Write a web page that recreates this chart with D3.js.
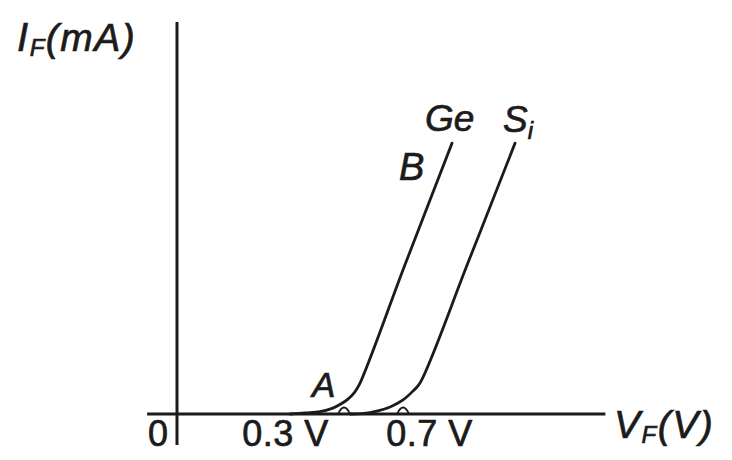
<!DOCTYPE html>
<html>
<head>
<meta charset="utf-8">
<script src="https://cdn.jsdelivr.net/npm/d3@7"></script>
<style>
  html, body { margin: 0; padding: 0; background: #fff; }
  svg { display: block; }
  text { font-family: "Liberation Sans", Arial, Helvetica, sans-serif; fill: #1b1b1b; stroke: #1b1b1b; stroke-width: 0.7; }
</style>
</head>
<body>
<svg id="chart" width="732" height="460"></svg>
<script>
// Forward characteristics of germanium and silicon diodes (schematic).
// Forward voltage in volts, forward current in mA.
const geVoltage = [0.314, 0.356, 0.397, 0.433, 0.456, 0.475, 0.492, 0.506, 0.633, 0.764];
const geCurrent = [0, 0.03, 0.06, 0.15, 0.26, 0.38, 0.54, 0.74, 3.80, 6.91];

const siVoltage = [0.481, 0.514, 0.558, 0.592, 0.628, 0.656, 0.675, 0.808, 0.939];
const siCurrent = [0, 0.01, 0.08, 0.18, 0.36, 0.59, 0.79, 3.85, 6.91];

// Knee marks on the voltage axis
const kneeVoltages = [0.464, 0.628];

// Labelled voltages on the horizontal axis
const tickValues = [0.3, 0.7];
const tickLabels = ["0.3 V", "0.7 V"];

const svg = d3.select("#chart");
const ink = "#1b1b1b";

const x = d3.scaleLinear().domain([0, 1]).range([177, 537]);
const y = d3.scaleLinear().domain([0, 10]).range([414, 22]);

// Axes
svg.append("line")
  .attr("x1", x(-0.083)).attr("x2", x(1.19))
  .attr("y1", y(0)).attr("y2", y(0))
  .attr("stroke", ink).attr("stroke-width", 3);
svg.append("line")
  .attr("x1", x(0)).attr("x2", x(0))
  .attr("y1", y(-0.79)).attr("y2", y(10))
  .attr("stroke", ink).attr("stroke-width", 3);

// Tick labels along the voltage axis
const xAxis = d3.axisBottom(x)
  .tickValues(tickValues)
  .tickSize(0)
  .tickFormat((d, i) => tickLabels[i]);
const gx = svg.append("g")
  .attr("transform", `translate(0,${y(0)})`)
  .call(xAxis);
gx.select(".domain").remove();
gx.selectAll("text")
  .attr("y", 32).attr("dy", 0)
  .attr("font-size", 36)
  .attr("letter-spacing", 0.5)
  .attr("font-family", "'Liberation Sans', Arial, sans-serif")
  .attr("fill", ink);

svg.append("text")
  .attr("x", x(0) - 9).attr("y", 446)
  .attr("text-anchor", "end")
  .attr("font-size", 36)
  .text("0");

// Curves
const line = d3.line()
  .x(d => x(d[0]))
  .y(d => y(d[1]))
  .curve(d3.curveCatmullRom.alpha(0.5));

const ge = geVoltage.map((v, i) => [v, geCurrent[i]]);
const si = siVoltage.map((v, i) => [v, siCurrent[i]]);

svg.append("path").datum(ge)
  .attr("d", line)
  .attr("fill", "none").attr("stroke", ink).attr("stroke-width", 2.8)
  .attr("stroke-linecap", "round");
svg.append("path").datum(si)
  .attr("d", line)
  .attr("fill", "none").attr("stroke", ink).attr("stroke-width", 2.8)
  .attr("stroke-linecap", "round");

// Small knee marks on the axis
svg.selectAll("path.knee").data(kneeVoltages).enter().append("path")
  .attr("class", "knee")
  .attr("d", v => `M${x(v) - 6},${y(0)} Q${x(v)},${y(0) - 13} ${x(v) + 6},${y(0)}`)
  .attr("fill", "none").attr("stroke", ink).attr("stroke-width", 1.8);

// Axis titles
const yTitle = svg.append("text")
  .attr("x", 17).attr("y", 51)
  .attr("font-style", "italic")
  .attr("letter-spacing", 1.5);
yTitle.append("tspan").attr("font-size", 40).text("I");
yTitle.append("tspan").attr("font-size", 24).attr("dy", 5).text("F");
yTitle.append("tspan").attr("font-size", 39).attr("dy", -5).text("(mA)");

const xTitle = svg.append("text")
  .attr("x", 614).attr("y", 438)
  .attr("font-style", "italic")
  .attr("letter-spacing", 1.5);
xTitle.append("tspan").attr("font-size", 39).text("V");
xTitle.append("tspan").attr("font-size", 24).attr("dy", 5).text("F");
xTitle.append("tspan").attr("font-size", 39).attr("dy", -5).text("(V)");

// Curve labels
svg.append("text")
  .attr("x", 425).attr("y", 131)
  .attr("font-size", 37).attr("font-style", "italic")
  .text("Ge");
const siLabel = svg.append("text")
  .attr("x", 503).attr("y", 132)
  .attr("font-style", "italic");
siLabel.append("tspan").attr("font-size", 37).text("S");
siLabel.append("tspan").attr("font-size", 24).attr("dy", 7).text("i");

svg.append("text")
  .attr("x", 399).attr("y", 180)
  .attr("font-size", 38).attr("font-style", "italic")
  .text("B");
svg.append("text")
  .attr("x", 312).attr("y", 397)
  .attr("font-size", 35).attr("font-style", "italic")
  .text("A");
</script>
</body>
</html>
